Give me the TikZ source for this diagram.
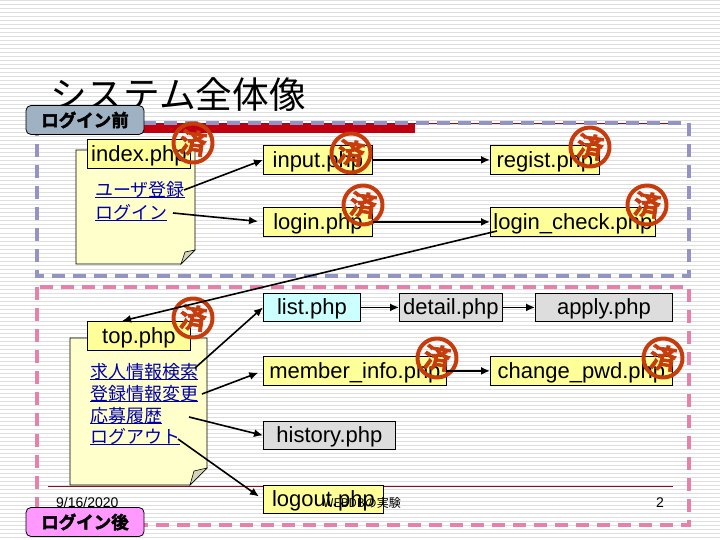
\documentclass[tikz,border=0pt]{standalone}
\usepackage{fontspec}
\setmainfont{Liberation Sans}
\newfontfamily\cjk{Noto Sans CJK JP}
\newfontfamily\cjkheavy[FakeBold=2.5]{Noto Sans CJK JP Bold}
\usetikzlibrary{arrows.meta}
\definecolor{stripe}{HTML}{DEDEDE}
\definecolor{barred}{HTML}{C00010}
\definecolor{thinred}{HTML}{8E1020}
\definecolor{bluedash}{HTML}{9494C4}
\definecolor{pinkdash}{HTML}{E880AC}
\definecolor{boxyellow}{HTML}{FFFF99}
\definecolor{noteyellow}{HTML}{FFFFCC}
\definecolor{boxgray}{HTML}{DDDDDD}
\definecolor{boxcyan}{HTML}{CCFFFF}
\definecolor{foldgray}{HTML}{D4D4BC}
\definecolor{stampred}{HTML}{C63C0C}
\definecolor{linkblue}{HTML}{0000AA}
\definecolor{tagblue}{HTML}{9FB2C4}
\definecolor{tagpink}{HTML}{FF99FF}
\newcommand{\lnk}[1]{\vtop{\hbox{#1}\kern-.9pt\hrule height 1.3pt}}
\begin{document}
\begin{tikzpicture}[x=1pt,y=-1pt,
                    line/.style={line width=1.6pt,-{Latex[length=9pt,width=8pt]}},
                    phpbox/.style={draw,line width=.8pt,inner sep=0pt,anchor=north west,align=center,
                                   text height=19pt,text depth=4pt,
                                   font=\fontsize{22}{22}\selectfont},
                    notepaper/.style={draw,line width=.8pt,fill=noteyellow},
                    link/.style={anchor=base west,inner sep=0pt,text=linkblue,
                                 font=\cjk\fontsize{18}{18}\selectfont},
                    stamp/.style={circle,draw=stampred,line width=4pt,text=stampred,minimum size=39pt,
                                  inner sep=0pt,rotate=-8,font=\cjkheavy\fontsize{27}{27}\selectfont},
                    tag/.style={draw,line width=.8pt,rounded corners=5pt,minimum width=118pt,minimum height=29pt,
                                inner sep=0pt,font=\cjkheavy\fontsize{17.5}{17.5}\selectfont},
                    footer/.style={inner sep=0pt,font=\fontsize{14}{14}\selectfont}]
 \useasboundingbox (0,0) rectangle (720,540);
 \foreach \yy in {1,5,...,537} \draw[stripe,line width=1pt] (0,\yy)--(720,\yy);
 % top rule and title
 \fill[barred] (143,123) rectangle (415,133);
 \draw[thinred,line width=.8pt] (143,123)--(678,123);
 \node[anchor=west,inner sep=0pt,font=\cjk\fontsize{36.7}{36.7}\selectfont] (title) at (50,95) {システム全体像};
 % the two areas
 \draw[bluedash,line width=3.5pt,dash pattern=on 13pt off 8pt] (37,123) rectangle (689,276);
 \draw[pinkdash,line width=3.5pt,dash pattern=on 13pt off 8pt] (37,287) rectangle (689,525);
 \draw[thinred,line width=.8pt] (48,486)--(673,486);
 \node[tag,fill=tagblue] (before) at (85,120) {ログイン前};
 \node[tag,fill=tagpink] (after) at (85,522) {ログイン後};
 % notes
 \draw[notepaper] (76,150)--(195,150)--(195,250)--(181,264)--(76,264)--cycle;
 \draw[line width=.6pt,fill=foldgray] (195,250)--(181,264)--(185,252)--cycle;
 \draw[notepaper] (70,338)--(207,338)--(207,468)--(190,485)--(70,485)--cycle;
 \draw[line width=.6pt,fill=foldgray] (207,468)--(190,485)--(194,471)--cycle;
 % pages before login
 \node[phpbox,fill=boxyellow,minimum width=103pt,minimum height=29pt] (index) at (87,139) {index.php};
 \node[phpbox,fill=boxyellow,minimum width=109pt,minimum height=29pt] (input) at (263,145) {input.php};
 \node[phpbox,fill=boxyellow,minimum width=109pt,minimum height=29pt] (login) at (263,207) {login.php};
 \node[phpbox,fill=boxyellow,minimum width=109pt,minimum height=29pt] (regist) at (490,145) {regist.php};
 \node[phpbox,fill=boxyellow,minimum width=165pt,minimum height=29pt] (check) at (490,207) {login\_check.php};
 % pages after login
 \node[phpbox,fill=boxyellow,minimum width=103pt,minimum height=29pt] (top) at (87,321) {top.php};
 \node[phpbox,fill=boxcyan,minimum width=97pt,minimum height=28pt] (list) at (263,293) {list.php};
 \node[phpbox,fill=boxgray,minimum width=103pt,minimum height=28pt] (detail) at (399,293) {detail.php};
 \node[phpbox,fill=boxgray,minimum width=137pt,minimum height=28pt] (apply) at (535,293) {apply.php};
 \node[phpbox,fill=boxyellow,minimum width=183pt,minimum height=29pt] (member) at (263,356) {member\_info.php};
 \node[phpbox,fill=boxyellow,minimum width=182pt,minimum height=29pt] (change) at (490,356) {change\_pwd.php};
 \node[phpbox,fill=boxgray,minimum width=132pt,minimum height=28pt] (history) at (263,421) {history.php};
 \node[phpbox,fill=boxyellow,minimum width=120pt,minimum height=28pt] (logout) at (263,485) {logout.php};
 % links
 \node[link] (lnkuser) at (95,196.5) {\lnk{ユーザ登録}};
 \node[link] (lnklogin) at (95,219.5) {\lnk{ログイン}};
 \node[link] (lnksearch) at (90,378.5) {\lnk{求人情報検索}};
 \node[link] (lnkedit) at (90,400.5) {\lnk{登録情報変更}};
 \node[link] (lnkapply) at (90,422.5) {\lnk{応募履歴}};
 \node[link] (lnkout) at (90,443.5) {\lnk{ログアウト}};
 % footer
 \node[footer,anchor=west] (date) at (56,502) {9/16/2020};
 \node[footer,anchor=east,font=\cjk\fontsize{12}{12}\selectfont] (course) at (401,503) {WEBDBの実験};
 \node[footer] (pageno) at (660,503) {2};
 % stamps
 \node[stamp] (done1) at (193,143) {済};
 \node[stamp] (done2) at (351,153) {済};
 \node[stamp] (done3) at (363,205) {済};
 \node[stamp] (done4) at (590,147) {済};
 \node[stamp] (done5) at (647,205) {済};
 \node[stamp] (done6) at (193,318) {済};
 \node[stamp] (done7) at (437,358) {済};
 \node[stamp] (done8) at (663,358) {済};
 % connectors
 \coordinate (fromuser) at (184,190);
 \coordinate (fromlogin) at (173,213);
 \coordinate (fromsearch) at (195,368);
 \coordinate (fromedit) at (202,394);
 \coordinate (fromapply) at (189,417);
 \coordinate (fromout) at (178,439);
 \coordinate (fromcheck) at (497,231);
 \coordinate (totop) at (122,321);
 \draw[line] (fromuser)--(input.west);
 \draw[line,shorten >=5pt] (fromlogin)--(login.west);
 \draw[line] (input)--(regist);
 \draw[line] (login)--(check);
 \draw[line] (fromcheck)--(totop);
 \draw[line] (fromsearch)--(list.west);
 \draw[line,shorten >=5pt] (fromedit)--(member.west);
 \draw[line] (fromapply)--(history.west);
 \draw[line,shorten >=5pt] (fromout)--(logout.west);
 \draw[line] (list)--(detail);
 \draw[line] (detail)--(apply);
 \draw[line] (member)--(change);
\end{tikzpicture}
\end{document}
